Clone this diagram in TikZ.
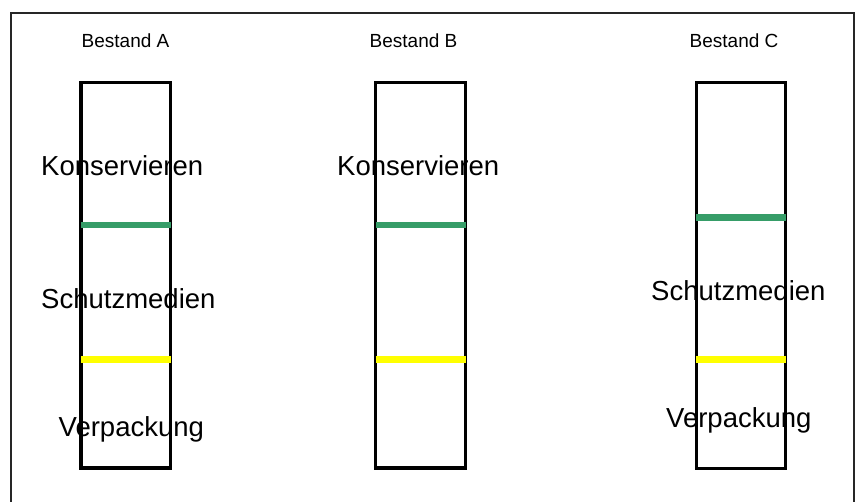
\documentclass[tikz,border=0pt]{standalone}
\usepackage{fontspec}
\setmainfont{Liberation Sans}
\definecolor{segreen}{RGB}{54,157,104}
\definecolor{segyellow}{RGB}{255,255,0}
\tikzset{
  column/.style={draw=black, line width=3.3pt},
  bar/.style={line width=6.5pt},
  greenbar/.style={bar, draw=segreen},
  yellowbar/.style={bar, draw=segyellow},
  head/.style={anchor=base west, inner sep=0pt, font=\fontsize{19}{22}\selectfont},
  lbl/.style={anchor=base west, inner sep=0pt, font=\fontsize{27.5}{32}\selectfont},
  frame/.style={draw=black!85, line width=1.3pt}
}
\begin{document}
\begin{tikzpicture}[x=1pt,y=-1pt]
\useasboundingbox (0,0) rectangle (859,501);
% outer frame (open at bottom, runs off the picture)
\coordinate (fbl) at (11,510);
\coordinate (ftl) at (11,13);
\coordinate (ftr) at (854,13);
\coordinate (fbr) at (854,510);
\begin{scope}
\clip (0,0) rectangle (859,501);
\draw[frame] (fbl) -- (ftl) -- (ftr) -- (fbr);
\end{scope}

% columns
\draw[column] (81,82.7) rectangle (170.5,468);
\draw[column] (375.8,82.5) rectangle (465.7,468);
\draw[column] (696.2,82.5) rectangle (785.7,468.2);

% separators
\coordinate (ag1) at (81,225); \coordinate (ag2) at (170.5,225);
\coordinate (ay1) at (81,359.3); \coordinate (ay2) at (170.5,359.3);
\coordinate (bg1) at (375.8,225); \coordinate (bg2) at (465.7,225);
\coordinate (by1) at (375.8,359.3); \coordinate (by2) at (465.7,359.3);
\coordinate (cg1) at (696.2,217.3); \coordinate (cg2) at (785.7,217.3);
\coordinate (cy1) at (696.2,359.3); \coordinate (cy2) at (785.7,359.3);
\draw[greenbar] (ag1) -- (ag2);
\draw[yellowbar] (ay1) -- (ay2);
\draw[greenbar] (bg1) -- (bg2);
\draw[yellowbar] (by1) -- (by2);
\draw[greenbar] (cg1) -- (cg2);
\draw[yellowbar] (cy1) -- (cy2);

% headings
\node[head] (ha) at (81.5,47.7) {Bestand A};
\node[head] (hb) at (369.5,47.7) {Bestand B};
\node[head] (hc) at (689.5,47.7) {Bestand C};

% labels
\node[lbl] (ka) at (41,175) {Konservieren};
\node[lbl] (sa) at (41,308) {Schutzmedien};
\node[lbl] (va) at (58.5,436.5) {Verpackung};
\node[lbl] (kb) at (337,175) {Konservieren};
\node[lbl] (sc) at (651,300) {Schutzmedien};
\node[lbl] (vc) at (666,427) {Verpackung};
\end{tikzpicture}
\end{document}
